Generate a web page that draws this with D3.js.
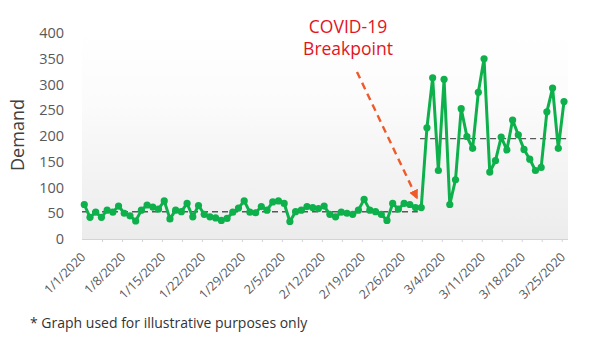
<!DOCTYPE html>
<html>
<head>
<meta charset="utf-8">
<script src="https://cdn.jsdelivr.net/npm/d3@7/dist/d3.min.js"></script>
<style>
  html, body { margin: 0; padding: 0; background: #ffffff; }
  svg { display: block; font-family: "Open Sans", "Noto Sans", sans-serif; }
</style>
</head>
<body>
<svg id="chart" width="590" height="340"></svg>
<script>
// Daily demand, 1/1/2020 through 3/25/2020
const startDate = "2020-01-01";
const demandBefore = [
  67, 42, 52, 42, 56, 52, 64, 50, 45, 35,
  56, 66, 62, 58, 74, 39, 56, 53, 69, 43,
  65, 48, 43, 41, 36, 40, 52, 60, 74, 52,
  51, 63, 56, 72, 74, 69, 34, 53, 56, 63,
  61, 59, 64, 48, 43, 52, 50, 48, 56, 77,
  56, 53, 48, 36, 69, 58, 69, 67, 61, 61
];
const demandAfter = [
  216, 313, 133, 310, 67, 115, 253, 199, 176, 285,
  350, 130, 152, 198, 173, 231, 202, 174, 155, 133,
  139, 247, 293, 176, 267
];
// Average level of each regime (dashed reference lines)
const levelBefore = 53;
const levelAfter = 195;
const weekLabels = ["1/1/2020", "1/8/2020", "1/15/2020", "1/22/2020", "1/29/2020",
  "2/5/2020", "2/12/2020", "2/19/2020", "2/26/2020", "3/4/2020", "3/11/2020",
  "3/18/2020", "3/25/2020"];
const yTicks = [0, 50, 100, 150, 200, 250, 300, 350, 400];
const annotationLines = ["COVID-19", "Breakpoint"];
const footnote = "* Graph used for illustrative purposes only";

const demand = demandBefore.concat(demandAfter);
const dayMs = 864e5;
const t0 = new Date(startDate + "T00:00:00");
const points = demand.map((v, i) => ({ date: new Date(t0.getTime() + i * dayMs), day: i, value: v }));
const breakDay = demandBefore.length - 1;

const svg = d3.select("#chart");
const plot = { left: 82, right: 568, top: 30, bottom: 239 };

const x = d3.scaleLinear().domain([-0.4, 84.7]).range([plot.left, plot.right]);
const y = d3.scaleLinear().domain([0, 400]).range([239, 33]);

// Plot background gradient
const defs = svg.append("defs");
const grad = defs.append("linearGradient").attr("id", "plotBg")
  .attr("x1", 0).attr("y1", 0).attr("x2", 0).attr("y2", 1);
grad.append("stop").attr("offset", "0%").attr("stop-color", "#ffffff");
grad.append("stop").attr("offset", "35%").attr("stop-color", "#fbfbfb");
grad.append("stop").attr("offset", "100%").attr("stop-color", "#ececec");

svg.append("rect")
  .attr("x", plot.left).attr("y", plot.top)
  .attr("width", plot.right - plot.left).attr("height", plot.bottom - plot.top)
  .attr("fill", "url(#plotBg)");

// Arrow marker
defs.append("marker").attr("id", "arrowHead")
  .attr("viewBox", "0 0 10 10").attr("refX", 9).attr("refY", 5)
  .attr("markerWidth", 4).attr("markerHeight", 4).attr("orient", "auto")
  .append("path").attr("d", "M0,0 L10,5 L0,10 Z").attr("fill", "#ef5a2a");

// Y axis labels
const yAxis = d3.axisLeft(y).tickValues(yTicks).tickSize(0).tickPadding(0);
const yG = svg.append("g").attr("transform", "translate(64,0)").call(yAxis);
yG.select(".domain").remove();
yG.selectAll("text").attr("fill", "#595959").attr("font-size", "14.5px")
  .attr("font-family", "'Open Sans', sans-serif");

// Y title
svg.append("text")
  .attr("transform", "translate(24,135) rotate(-90)")
  .attr("text-anchor", "middle")
  .attr("fill", "#404040").attr("font-size", "18px")
  .text("Demand");

// X axis: line + small tick marks
const xTickDays = d3.range(3.1, 85, 3.5);
const xAxis = d3.axisBottom(x).tickValues(xTickDays).tickSize(3).tickFormat("");
const xG = svg.append("g").attr("transform", `translate(0,${plot.bottom})`).call(xAxis);
xG.select(".domain").attr("stroke", "#d4d4d4").attr("stroke-width", 1.2)
  .attr("d", `M${plot.left},0.5H${plot.right}`);
xG.selectAll(".tick line").attr("stroke", "#d4d4d4");

// Weekly date labels
svg.append("g").selectAll("text")
  .data(weekLabels)
  .join("text")
  .attr("transform", (d, i) => `translate(${x(i * 7) + 2},258) rotate(-45)`)
  .attr("text-anchor", "end")
  .attr("fill", "#595959").attr("font-size", "12.5px")
  .text(d => d);

// Dashed level lines
const levels = [
  { from: -0.4, to: breakDay - 0.6, v: levelBefore },
  { from: breakDay - 0.2, to: 84.7, v: levelAfter }
];
svg.append("g").selectAll("line")
  .data(levels)
  .join("line")
  .attr("x1", d => x(d.from)).attr("x2", d => x(d.to))
  .attr("y1", d => y(d.v)).attr("y2", d => y(d.v))
  .attr("stroke", "#595959").attr("stroke-width", 1.4)
  .attr("stroke-dasharray", "6,4");

// Demand line and markers
const green = "#0db04b";
svg.append("path")
  .datum(points)
  .attr("fill", "none")
  .attr("stroke", green).attr("stroke-width", 3)
  .attr("stroke-linejoin", "round")
  .attr("d", d3.line().x(d => x(d.day)).y(d => y(d.value)));

svg.append("g").selectAll("circle")
  .data(points)
  .join("circle")
  .attr("cx", d => x(d.day)).attr("cy", d => y(d.value))
  .attr("r", 3.6).attr("fill", green);

// Breakpoint annotation
const bp = points[breakDay];
svg.append("line")
  .attr("x1", 357).attr("y1", 72)
  .attr("x2", x(bp.day) - 4).attr("y2", y(bp.value) - 9)
  .attr("stroke", "#ef5a2a").attr("stroke-width", 2.4)
  .attr("stroke-dasharray", "7,5")
  .attr("marker-end", "url(#arrowHead)");

svg.append("g").selectAll("text")
  .data(annotationLines)
  .join("text")
  .attr("x", 348).attr("y", (d, i) => 33 + i * 22)
  .attr("text-anchor", "middle")
  .attr("fill", "#e3141c").attr("font-size", "17.5px")
  .text(d => d);

// Footnote
svg.append("text")
  .attr("x", 30).attr("y", 328)
  .attr("fill", "#333333").attr("font-size", "14px")
  .text(footnote);
</script>
</body>
</html>
